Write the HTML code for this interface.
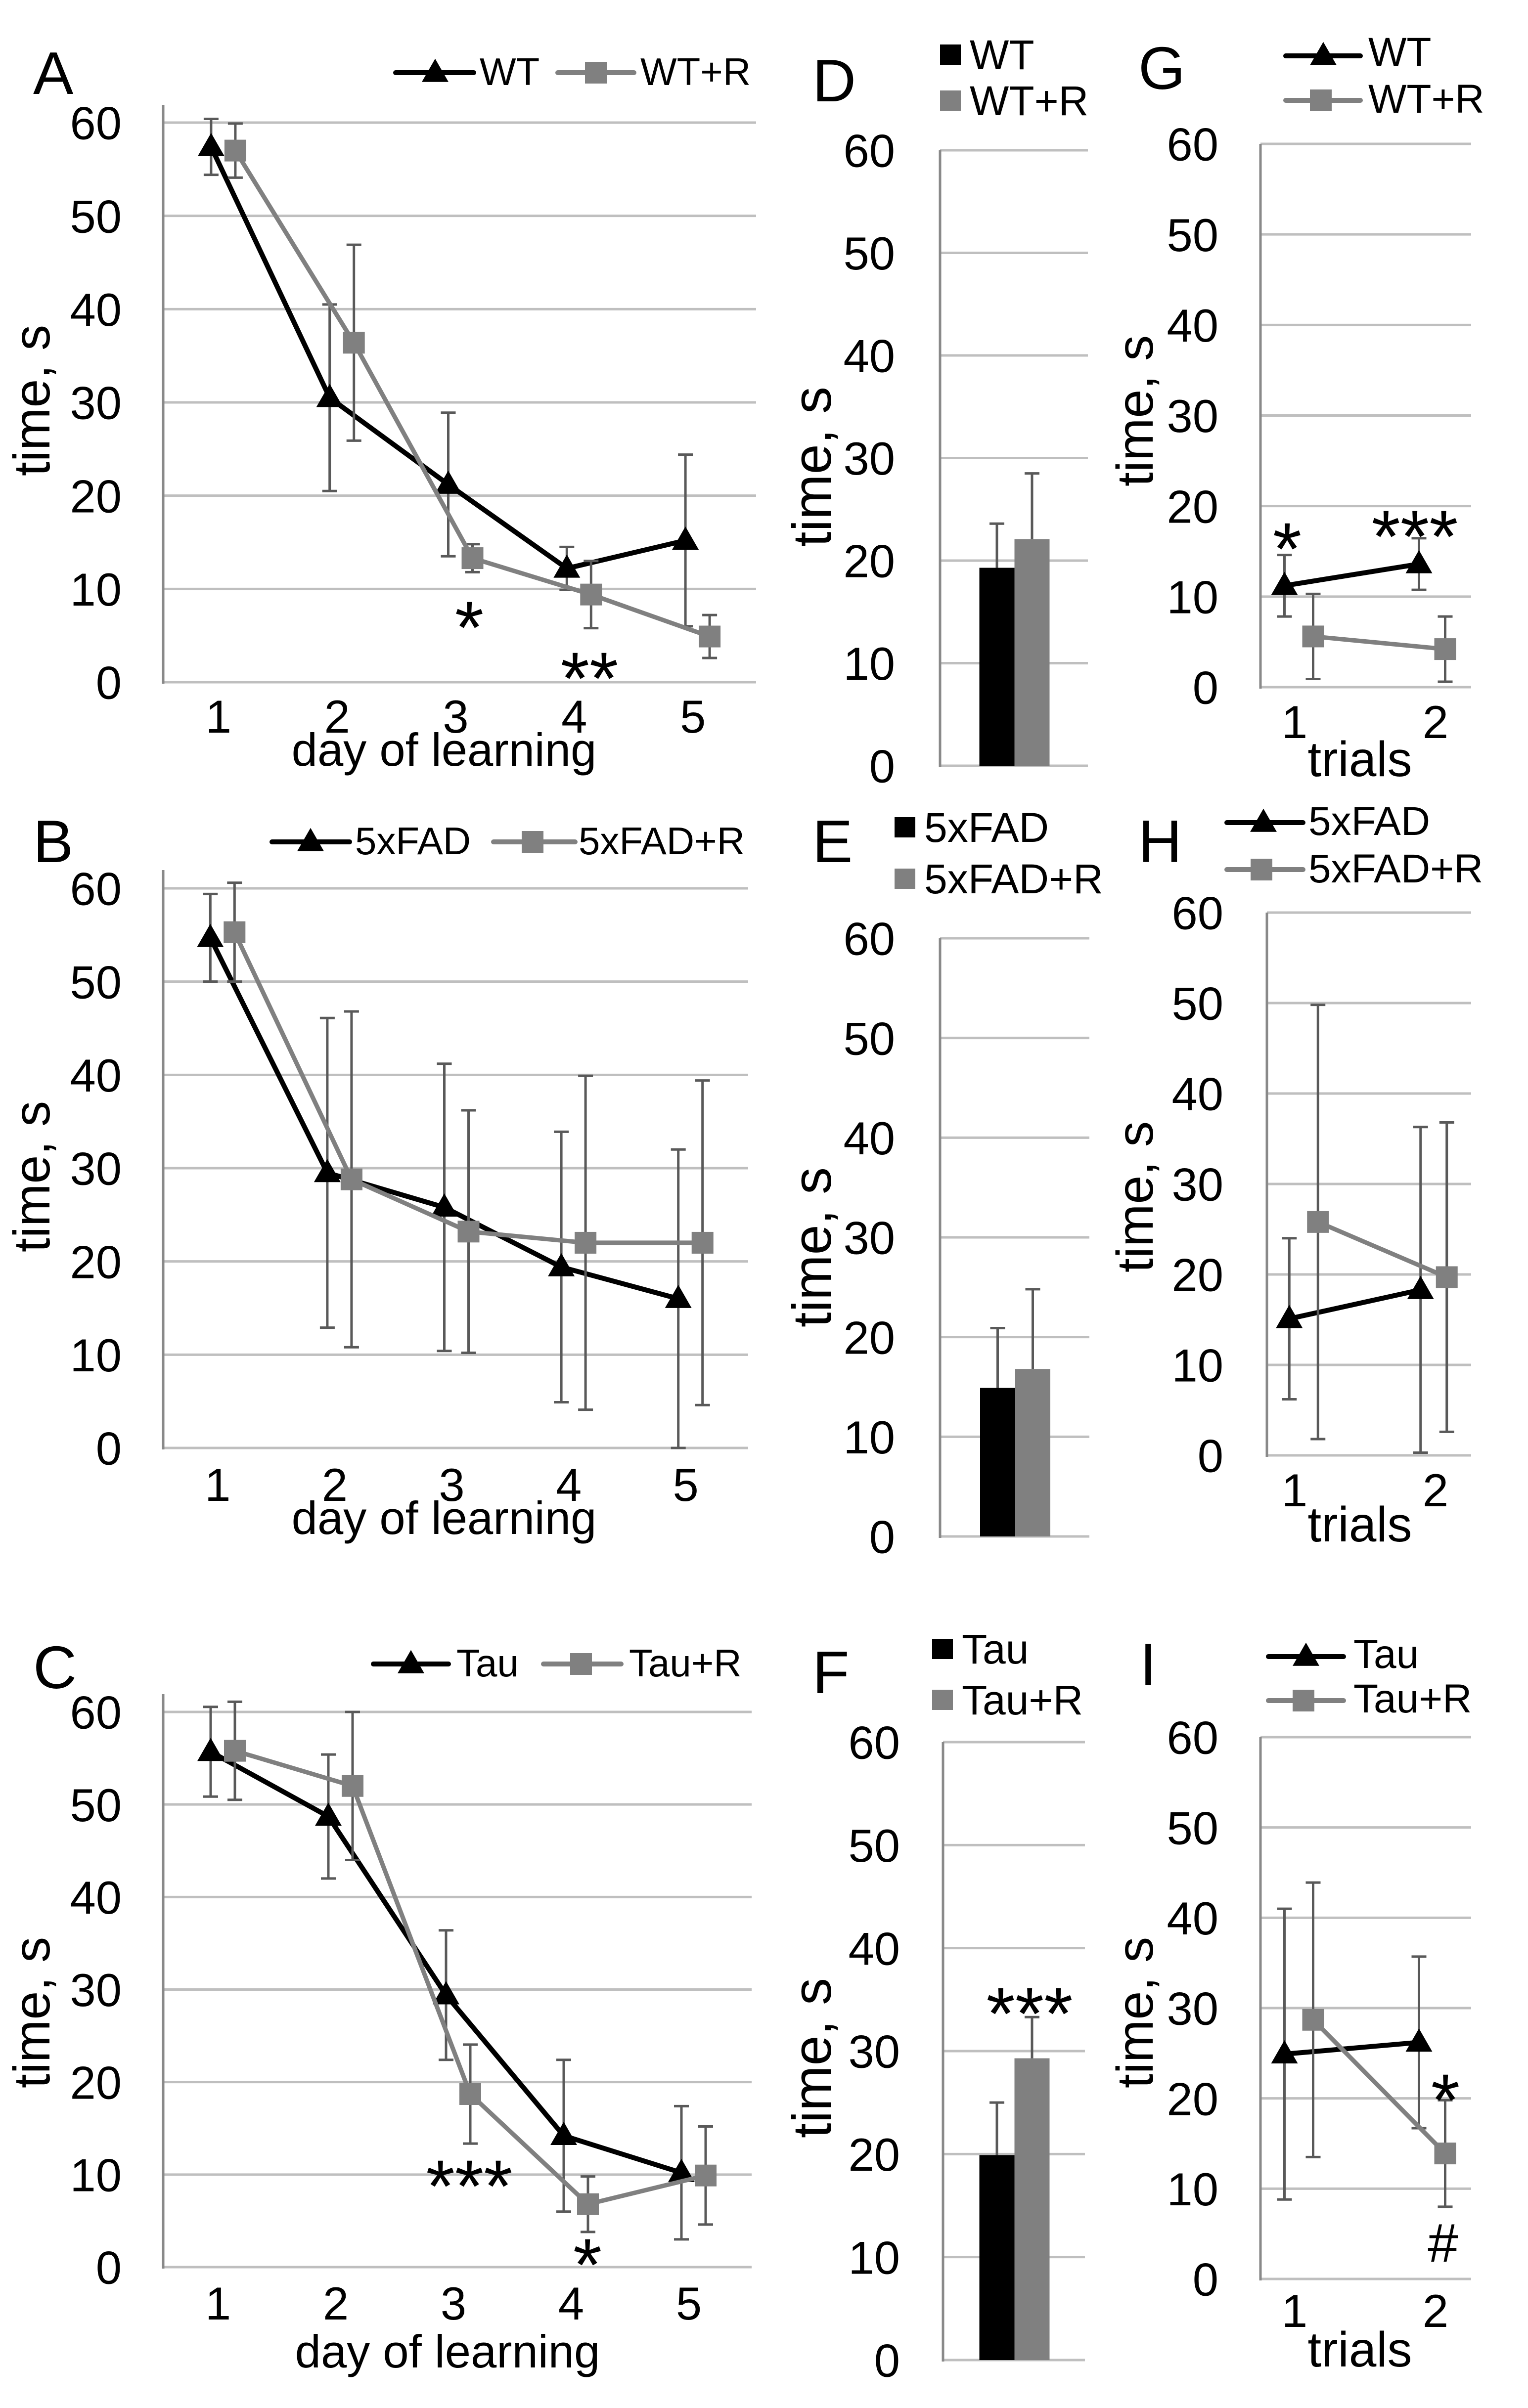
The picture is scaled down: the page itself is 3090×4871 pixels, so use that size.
<!DOCTYPE html>
<html><head><meta charset="utf-8"><style>
html,body{margin:0;padding:0;background:#fff;}
svg{display:block;font-family:"Liberation Sans",Arial,sans-serif;}
</style></head><body>
<svg id="fig" width="3090" height="4871" viewBox="0 0 3090 4871" xmlns="http://www.w3.org/2000/svg"></svg>
<script>
// ---- data ----
const dayCats = [1,2,3,4,5];
const trialCats = [1,2];
const tickVals = [0,10,20,30,40,50,60];

const aWT = [57.4,30.5,21.2,12.2,15.2];
const aWTerr = [3,10,7.7,2.3,9.2];
const aWTR = [57,36.4,13.3,9.4,4.9];
const aWTRerr = [2.9,10.5,1.5,3.6,2.3];

const bFAD = [54.7,29.5,25.8,19.4,16.0];
const bFADerr = [4.7,16.6,15.4,14.5,16];
const bFADR = [55.3,28.8,23.2,22.0,22.0];
const bFADRerr = [5.3,18,13,17.9,17.4];

const cTau = [55.7,48.7,29.4,14.2,10.2];
const cTauErr = [4.85,6.7,7,8.2,7.2];
const cTauR = [55.8,52,18.7,6.8,9.9];
const cTauRerr = [5.3,8,5.35,3,5.3];

const dBars = [19.3,22.1];
const dErr = [4.3,6.4];
const eBars = [14.9,16.8];
const eErr = [6.0,8.0];
const fBars = [19.9,29.3];
const fErr = [5.1,4.0];

const gWT = [11.2,13.6];
const gWTerr = [3.4,2.85];
const gWTR = [5.6,4.2];
const gWTRerr = [4.7,3.6];

const hFAD = [15.1,18.3];
const hFADerr = [8.9,18];
const hFADR = [25.8,19.7];
const hFADRerr = [24,17.1];

const iTau = [24.9,26.2];
const iTauErr = [16.1,9.5];
const iTauR = [28.7,13.9];
const iTauRerr = [15.2,5.9];

// ---- drawing ----
const NS = "http://www.w3.org/2000/svg";
const svg = document.getElementById('fig');
function mk(tag, attrs, parent){
  const e = document.createElementNS(NS, tag);
  for (const k in attrs) e.setAttribute(k, attrs[k]);
  (parent||svg).appendChild(e);
  return e;
}
function txt(s, x, y, fs, anchor, parent, extra){
  const t = mk('text', Object.assign({x:x, y:y, 'font-size':fs, 'text-anchor':anchor||'start', fill:'#000', 'font-family':'Liberation Sans, Arial, sans-serif'}, extra||{}), parent);
  t.textContent = s;
  return t;
}
const GRID='#bfbfbf', AXIS='#898989', ERR='#595959', GRAY='#808080';

function axesFrame(g, P, tickFs){
  const ys = v => P.y0 - (P.y0 - P.y60) * v / 60;
  tickVals.forEach(v => {
    const l = mk('line', {x1:P.x0, x2:P.x1, y1:ys(v), y2:ys(v), stroke:GRID, 'stroke-width':5}, g);
    
    
    const t = txt(String(v), P.tickRight, ys(v) + 0.358*tickFs, tickFs, 'end', g);
    
    
  });
  const ax = mk('line', {x1:P.x0, x2:P.x0, y1:P.y0+3, y2:P.axisTop, stroke:AXIS, 'stroke-width':5}, g);
  
  
  return ys;
}
function yTitle(g, x, y, fs){
  const t = txt('time, s', 0, 0, fs, 'middle', g, {transform:`translate(${x},${y}) rotate(-90)`});
  
  
}
function letter(g, s, x, y){
  const t = txt(s, x, y, 122, 'start', g);
  
  
}
function triangle(g, cx, cy, s){
  const h = s*0.87;
  return mk('polygon', {points:`${cx},${cy-h*0.6} ${cx+s/2},${cy+h*0.4} ${cx-s/2},${cy+h*0.4}`, fill:'#000'}, g);
}
function square(g, cx, cy, s){
  return mk('rect', {x:cx-s/2, y:cy-s/2, width:s, height:s, fill:GRAY}, g);
}
function errBar(g, x, ys, v, e, both){
  const top = ys(v+e), bot = both ? ys(Math.max(0, v-e)) : ys(v);
  const grp = mk('g', {stroke:ERR, 'stroke-width':5}, g);
  
  
  mk('line', {x1:x, x2:x, y1:top, y2:bot}, grp);
  mk('line', {x1:x-15, x2:x+15, y1:top, y2:top}, grp);
  if (both) mk('line', {x1:x-15, x2:x+15, y1:bot, y2:bot}, grp);
}
function lineSeries(g, name, xs, ys, vals, errs, color, width, marker){
  const sg = mk('g', {}, g);
  
  
  return {sg, draw(){
    const pts = vals.map((v,i) => `${xs(i)},${ys(v)}`).join(' ');
    const pl = mk('polyline', {points:pts, fill:'none', stroke:color, 'stroke-width':width, 'stroke-linejoin':'round'}, sg);
    
    
    vals.forEach((v,i) => {
      const m = marker === 'tri' ? triangle(sg, xs(i), ys(v), 54) : square(sg, xs(i), ys(v), 44);
      
      
    });
  }, errs(){
    vals.forEach((v,i) => errBar(sg, xs(i), ys, v, errs[i], true));
  }};
}
function lineLegend(g, items){
  items.forEach(it => {
    const lg = mk('g', {}, g);
    
    
    mk('line', {x1:it.x1, x2:it.x2, y1:it.y, y2:it.y, stroke:it.color, 'stroke-width':10, 'stroke-linecap':'round'}, lg);
    if (it.marker === 'tri') triangle(lg, it.mx, it.y, 54); else square(lg, it.mx, it.y, 44);
    txt(it.label, it.tx, it.ty, it.fs, 'start', lg);
  });
}
function star(g, s){
  const t = txt(s.t, s.x, s.y, s.fs||150, 'middle', g);
  
  
}

// ----- line panels A,B,C -----
function dayPanel(cfg){
  const g = mk('g', {});
  
  
  const P = cfg.P;
  const ys = axesFrame(g, P, 94);
  const step = (P.x1 - P.x0) / dayCats.length;
  const xc = i => P.x0 + (i + 0.5) * step;
  dayCats.forEach((c,i) => {
    const t = txt(String(c), xc(i) - 8, cfg.xTickBase, 94, 'middle', g);
    
    
  });
  const xt = txt('day of learning', cfg.xTitleX, cfg.xTitleY, 94, 'middle', g);
  
  
  yTitle(g, 100, cfg.yTitleY, 104);
  letter(g, cfg.letter, 67, cfg.letterY);
  const sb = lineSeries(g, cfg.bName, i => xc(i) - 23, ys, cfg.b, cfg.bErr, '#000', 10, 'tri');
  const sg = lineSeries(g, cfg.gName, i => xc(i) + 26, ys, cfg.g, cfg.gErr, GRAY, 9, 'sq');
  sb.errs(); sg.errs(); sg.draw(); sb.draw();
  lineLegend(g, cfg.legend);
  (cfg.stars||[]).forEach(s => star(g, s));
}
dayPanel({name:'panel-a-wt-learning', letter:'A', letterY:190,
  P:{x0:330, x1:1529, y0:1380, y60:248, axisTop:212, tickRight:246},
  xTickBase:1482, xTitleX:898, xTitleY:1549, yTitleY:810,
  b:aWT, bErr:aWTerr, g:aWTR, gErr:aWTRerr, bName:'wt', gName:'wt-r',
  legend:[{x1:800,x2:958,y:147,mx:880,marker:'tri',color:'#000',label:'WT',tx:970,ty:172,fs:78},
          {x1:1128,x2:1282,y:147,mx:1205,marker:'sq',color:GRAY,label:'WT+R',tx:1295,ty:172,fs:78}],
  stars:[{t:'*',x:949,y:1321},{t:'**',x:1192,y:1424}]});
dayPanel({name:'panel-b-5xfad-learning', letter:'B', letterY:1744,
  P:{x0:330, x1:1513, y0:2929, y60:1797, axisTop:1760, tickRight:246},
  xTickBase:3036, xTitleX:898, xTitleY:3103, yTitleY:2380,
  b:bFAD, bErr:bFADerr, g:bFADR, gErr:bFADRerr, bName:'5xfad', gName:'5xfad-r',
  legend:[{x1:550,x2:707,y:1703,mx:628,marker:'tri',color:'#000',label:'5xFAD',tx:718,ty:1728,fs:78},
          {x1:998,x2:1163,y:1703,mx:1077,marker:'sq',color:GRAY,label:'5xFAD+R',tx:1170,ty:1728,fs:78}]});
dayPanel({name:'panel-c-tau-learning', letter:'C', letterY:3415,
  P:{x0:330, x1:1520, y0:4586, y60:3463, axisTop:3427, tickRight:246},
  xTickBase:4692, xTitleX:905, xTitleY:4789, yTitleY:4071,
  b:cTau, bErr:cTauErr, g:cTauR, gErr:cTauRerr, bName:'tau', gName:'tau-r',
  legend:[{x1:755,x2:907,y:3366,mx:831,marker:'tri',color:'#000',label:'Tau',tx:923,ty:3391,fs:78},
          {x1:1099,x2:1256,y:3366,mx:1175,marker:'sq',color:GRAY,label:'Tau+R',tx:1272,ty:3391,fs:78}],
  stars:[{t:'***',x:949,y:4474},{t:'*',x:1188,y:4633}]});

// ----- bar panels D,E,F -----
function barPanel(cfg){
  const g = mk('g', {});
  
  
  const P = cfg.P;
  const ys = axesFrame(g, P, 94);
  const bw = 71, center = (P.x0 + P.x1)/2 + 1;
  const colors = ['#000', GRAY];
  cfg.vals.forEach((v,i) => {
    const x = center - bw + i*bw;
    errBar(g, x + bw/2, ys, v, cfg.errs[i], false);
    const r = mk('rect', {x:x, y:ys(v), width:bw, height:P.y0 - ys(v), fill:colors[i]}, g);
    
    
  });
  yTitle(g, 1680, cfg.yTitleY, 110);
  letter(g, cfg.letter, 1643, cfg.letterY);
  cfg.labels.forEach((lab,i) => {
    const lg = mk('g', {});
    
    
    g.appendChild(lg);
    mk('rect', {x:cfg.legX, y:cfg.legY[i]-20, width:42, height:41, fill:colors[i]}, lg);
    txt(lab, cfg.legX + 60, cfg.legY[i] + 30, 84, 'start', lg);
  });
  if (cfg.star) star(g, cfg.star);
}
barPanel({name:'panel-d-wt-bars', letter:'D', letterY:205,
  P:{x0:1901, x1:2200, y0:1549, y60:304, axisTop:304, tickRight:1810},
  vals:dBars, errs:dErr, labels:['WT','WT+R'], legX:1901, legY:[110,203], yTitleY:944});
barPanel({name:'panel-e-5xfad-bars', letter:'E', letterY:1744,
  P:{x0:1901, x1:2203, y0:3108, y60:1898, axisTop:1898, tickRight:1810},
  vals:eBars, errs:eErr, labels:['5xFAD','5xFAD+R'], legX:1809, legY:[1673,1777], yTitleY:2523});
barPanel({name:'panel-f-tau-bars', letter:'F', letterY:3425,
  P:{x0:1907, x1:2194, y0:4774, y60:3524, axisTop:3524, tickRight:1820},
  vals:fBars, errs:fErr, labels:['Tau','Tau+R'], legX:1885, legY:[3335,3438], yTitleY:4163,
  star:{t:'***', x:2082, y:4125}});

// ----- trial panels G,H,I -----
function trialPanel(cfg){
  const g = mk('g', {});
  
  
  const P = cfg.P;
  const ys = axesFrame(g, P, 94);
  const step = (P.x1 - P.x0) / trialCats.length;
  const xc = i => P.x0 + (i + 0.5) * step;
  const bOff = [-58, 1], gOff = [0, 54];
  const tickX = [2618, 2903];
  trialCats.forEach((c,i) => {
    const t = txt(String(c), tickX[i], cfg.xTickBase, 94, 'middle', g);
    
    
  });
  const xt = txt('trials', 2750, cfg.xTitleY, 100, 'middle', g);
  
  
  yTitle(g, 2331, cfg.yTitleY, 104);
  letter(g, cfg.letter, cfg.letterX || 2302, cfg.letterY);
  const sb = lineSeries(g, cfg.bName, i => xc(i) + bOff[i], ys, cfg.b, cfg.bErr, '#000', 10, 'tri');
  const sg = lineSeries(g, cfg.gName, i => xc(i) + gOff[i], ys, cfg.g, cfg.gErr, GRAY, 9, 'sq');
  sb.errs(); sg.errs(); sg.draw(); sb.draw();
  lineLegend(g, cfg.legend);
  (cfg.stars||[]).forEach(s => star(g, s));
}
trialPanel({name:'panel-g-wt-trials', letter:'G', letterY:180,
  P:{x0:2549, x1:2975, y0:1390, y60:291, axisTop:291, tickRight:2464},
  xTickBase:1493, xTitleY:1570, yTitleY:831,
  b:gWT, bErr:gWTerr, g:gWTR, gErr:gWTRerr, bName:'wt', gName:'wt-r',
  legend:[{x1:2600,x2:2751,y:113,mx:2676,marker:'tri',color:'#000',label:'WT',tx:2767,ty:133,fs:82},
          {x1:2600,x2:2751,y:203,mx:2671,marker:'sq',color:GRAY,label:'WT+R',tx:2767,ty:228,fs:82}],
  stars:[{t:'*',x:2603,y:1162},{t:'***',x:2861,y:1137}]});
trialPanel({name:'panel-h-5xfad-trials', letter:'H', letterY:1744,
  P:{x0:2562, x1:2975, y0:2944, y60:1846, axisTop:1846, tickRight:2474},
  xTickBase:3047, xTitleY:3118, yTitleY:2421,
  b:hFAD, bErr:hFADerr, g:hFADR, gErr:hFADRerr, bName:'5xfad', gName:'5xfad-r',
  legend:[{x1:2481,x2:2635,y:1664,mx:2555,marker:'tri',color:'#000',label:'5xFAD',tx:2646,ty:1689,fs:82},
          {x1:2481,x2:2635,y:1759,mx:2551,marker:'sq',color:GRAY,label:'5xFAD+R',tx:2646,ty:1785,fs:82}]});
trialPanel({name:'panel-i-tau-trials', letter:'I', letterX:2305, letterY:3409,
  P:{x0:2549, x1:2975, y0:4610, y60:3514, axisTop:3514, tickRight:2464},
  xTickBase:4707, xTitleY:4787, yTitleY:4071,
  b:iTau, bErr:iTauErr, g:iTauR, gErr:iTauRerr, bName:'tau', gName:'tau-r',
  legend:[{x1:2565,x2:2717,y:3351,mx:2641,marker:'tri',color:'#000',label:'Tau',tx:2737,ty:3374,fs:82},
          {x1:2565,x2:2717,y:3440,mx:2636,marker:'sq',color:GRAY,label:'Tau+R',tx:2737,ty:3464,fs:82}],
  stars:[{t:'*',x:2923,y:4300},{t:'#',x:2918,y:4575,fs:110}]});
</script>
</body></html>
